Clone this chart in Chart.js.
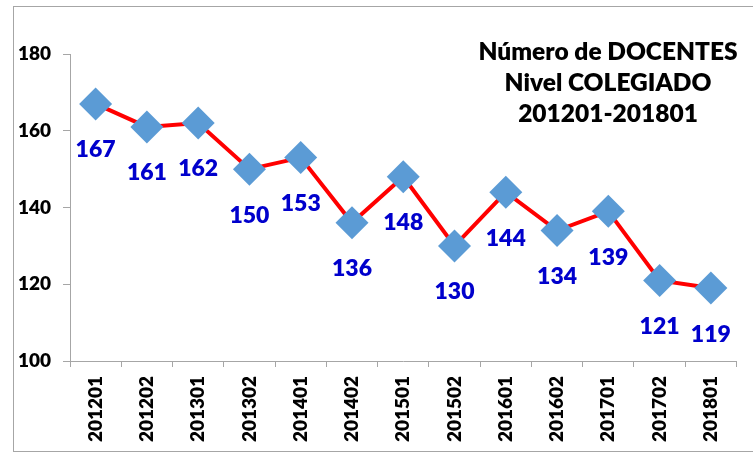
<!DOCTYPE html>
<html>
<head>
<meta charset="utf-8">
<script src="https://cdn.jsdelivr.net/npm/chart.js@4.4.1/dist/chart.umd.min.js"></script>
<style>
  html, body { margin: 0; padding: 0; background: #fff; }
  #wrap { width: 753px; height: 452px; position: relative; }
</style>
</head>
<body>
<div id="wrap"><canvas id="c" width="753" height="452"></canvas></div>
<script>
const categories = ['201201','201202','201301','201302','201401','201402','201501','201502','201601','201602','201701','201702','201801'];
const docentes = [167, 161, 162, 150, 153, 136, 148, 130, 144, 134, 139, 121, 119];
const yTicks = [100, 120, 140, 160, 180];
const titleLines = ['Número de DOCENTES', 'Nivel COLEGIADO', '201201-201801'];

const FONT = 'Lato, "Liberation Sans", sans-serif';
const W = '800';

const borderPlugin = {
  id: 'outerBorder',
  beforeDraw(chart) {
    const ctx = chart.ctx;
    ctx.save();
    ctx.strokeStyle = '#A6A6A6';
    ctx.lineWidth = 1;
    ctx.strokeRect(13.5, 6.5, 800, 445);
    ctx.restore();
  }
};

const titlePlugin = {
  id: 'cornerTitle',
  afterDraw(chart) {
    const ctx = chart.ctx;
    ctx.save();
    ctx.fillStyle = '#000';
    ctx.font = W + ' 24.5px ' + FONT;
    ctx.textAlign = 'center';
    ctx.textBaseline = 'alphabetic';
    titleLines.forEach((t, i) => ctx.fillText(t, 608, 60 + i * 30.8));
    ctx.restore();
  }
};

const labelPlugin = {
  id: 'pointLabels',
  afterDatasetsDraw(chart) {
    const ctx = chart.ctx;
    const meta = chart.getDatasetMeta(0);
    const data = chart.data.datasets[0].data;
    ctx.save();
    ctx.fillStyle = '#0000CC';
    ctx.font = W + ' 23px ' + FONT;
    ctx.textAlign = 'center';
    ctx.textBaseline = 'middle';
    meta.data.forEach((pt, i) => {
      ctx.fillText(String(data[i]), pt.x, pt.y + 46);
    });
    ctx.restore();
  }
};

new Chart(document.getElementById('c'), {
  type: 'line',
  data: {
    labels: categories,
    datasets: [{
      data: docentes,
      borderColor: '#FF0000',
      borderWidth: 4,
      backgroundColor: '#5B9BD5',
      pointStyle: 'rectRot',
      pointRadius: 16.5,
      pointHoverRadius: 16.5,
      pointBackgroundColor: '#5B9BD5',
      pointBorderColor: '#5B9BD5',
      pointBorderWidth: 0,
      tension: 0,
      clip: false
    }]
  },
  options: {
    responsive: false,
    animation: false,
    devicePixelRatio: 1,
    events: [],
    layout: { padding: { left: 0, right: 5, top: 54, bottom: 0 } },
    plugins: { legend: { display: false }, tooltip: { enabled: false }, title: { display: false } },
    scales: {
      x: {
        type: 'category',
        offset: true,
        border: { display: true, color: '#A6A6A6', width: 1 },
        grid: { offset: true, drawOnChartArea: false, drawTicks: true, tickLength: 6, color: '#A6A6A6' },
        ticks: {
          color: '#000',
          font: { family: FONT, size: 19, weight: W },
          minRotation: 90, maxRotation: 90, padding: 9, autoSkip: false
        },
        afterFit(scale) { scale.height = 91; }
      },
      y: {
        min: 100, max: 180,
        border: { display: true, color: '#A6A6A6', width: 1 },
        grid: { drawOnChartArea: false, drawTicks: true, tickLength: 7, color: '#A6A6A6' },
        afterBuildTicks(scale) { scale.ticks = yTicks.map(v => ({ value: v })); },
        ticks: {
          color: '#000',
          font: { family: FONT, size: 19, weight: W },
          padding: 12
        },
        afterFit(scale) { scale.width = 70; }
      }
    }
  },
  plugins: [borderPlugin, titlePlugin, labelPlugin]
});
</script>
</body>
</html>
